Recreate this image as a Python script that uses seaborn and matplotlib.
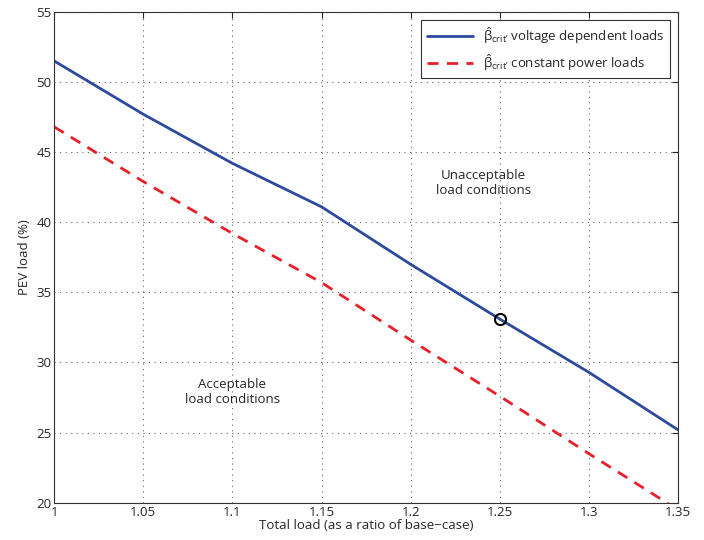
import matplotlib
matplotlib.use("Agg")
import matplotlib.pyplot as plt
import seaborn as sns
import pandas as pd

total_load = [1.0, 1.05, 1.1, 1.15, 1.2, 1.25, 1.3, 1.35]
voltage_dependent = [51.5, 47.7, 44.2, 41.1, 37.0, 33.1, 29.3, 25.2]
constant_power = [46.8, 42.9, 39.2, 35.7, 31.6, 27.6, 23.5, 19.5]
marker_x = [1.25]
marker_y = [33.1]
x_tick_labels = ["1", "1.05", "1.1", "1.15", "1.2", "1.25", "1.3", "1.35"]

lab_v = "$\\hat{\\mathrm{\\beta}}_{\\mathrm{crit\u2019}}$ voltage dependent loads"
lab_c = "$\\hat{\\mathrm{\\beta}}_{\\mathrm{crit\u2019}}$ constant power loads"

df = pd.DataFrame({
    "x": total_load * 2,
    "y": voltage_dependent + constant_power,
    "series": [lab_v] * len(total_load) + [lab_c] * len(total_load),
})

sns.set_style("white")
plt.rcParams['font.family'] = ['Open Sans', 'DejaVu Sans']
plt.rcParams['mathtext.fontset'] = 'custom'
plt.rcParams['mathtext.rm'] = 'Open Sans'
plt.rcParams['mathtext.it'] = 'Open Sans:italic'

fig = plt.figure(figsize=(7.04, 5.4), dpi=100)
ax = fig.add_axes([0.077, 0.069, 0.886, 0.909])

sns.lineplot(data=df, x="x", y="y", hue="series", style="series",
             palette={lab_v: "#2e4a9e", lab_c: "#e8202a"},
             dashes={lab_v: "", lab_c: (4, 3)}, linewidth=2, ax=ax)
ax.plot(marker_x, marker_y, marker="o", markersize=8, markerfacecolor="none",
        markeredgecolor="black", markeredgewidth=1.5, linestyle="none")

ax.set_xlim(1, 1.35)
ax.set_ylim(20, 55)
ax.set_xticks(total_load)
ax.set_xticklabels(x_tick_labels)
ax.set_yticks([20, 25, 30, 35, 40, 45, 50, 55])
ax.grid(True, linestyle=(0, (1, 4)), color="#666666", linewidth=0.8)
ax.tick_params(direction="in", length=4, labelsize=9.5, pad=2, top=True, right=True,
               labeltop=False, labelright=False)
for s in ax.spines.values():
    s.set_color("#333333")
    s.set_linewidth(0.8)

ax.set_xlabel("Total load (as a ratio of base\u2212case)", fontsize=9.5, labelpad=0)
ax.set_ylabel("PEV load (%)", fontsize=9.5, labelpad=4)

ax.text(1.241, 42.8, "Unacceptable\nload conditions", ha="center", va="center", fontsize=9.5)
ax.text(1.10, 27.9, "Acceptable\nload conditions", ha="center", va="center", fontsize=9.5)

leg = ax.legend(loc="upper right", fontsize=9.5, frameon=True, fancybox=False,
                edgecolor="#333333", framealpha=1, handlelength=3.5,
                borderaxespad=0.6)
leg.get_frame().set_linewidth(0.8)

fig.savefig("out.png", dpi=100)
